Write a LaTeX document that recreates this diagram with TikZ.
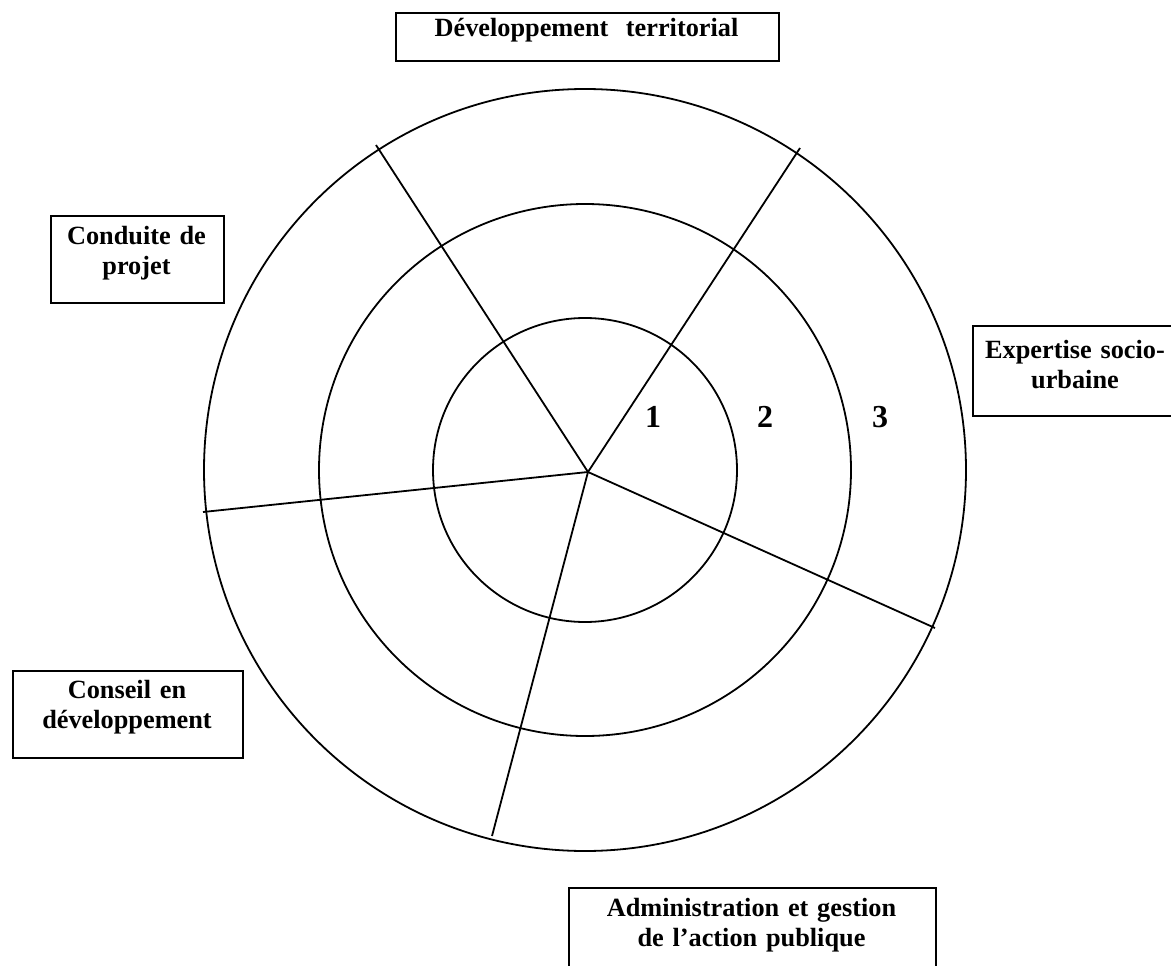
\documentclass[tikz,border=0pt]{standalone}
\usepackage{fontspec}
\setmainfont{Liberation Serif}
\begin{document}
\begin{tikzpicture}[x=1pt,y=-1pt,
  ring/.style={draw, line width=1.8pt},
  spoke/.style={draw, line width=1.8pt},
  frame/.style={draw, line width=1.8pt, inner sep=0pt, anchor=north west},
  lbl/.style={font=\bfseries\fontsize{26.3}{30.8}\selectfont, align=center, inner sep=0pt, anchor=base},
  num/.style={font=\bfseries\fontsize{32}{36}\selectfont, anchor=base, inner sep=0pt}]
\useasboundingbox (0,0) rectangle (1171,966);

% rings
\coordinate (o) at (585,470);
\draw[ring] (o) circle[radius=381pt];
\draw[ring] (o) circle[radius=266pt];
\draw[ring] (o) circle[radius=152pt];

% spokes
\coordinate (c) at (588,472);
\coordinate (s1) at (376,145);
\coordinate (s2) at (800,148);
\coordinate (s3) at (935,628);
\coordinate (s4) at (492,836);
\coordinate (s5) at (203,512);
\draw[spoke] (c) -- (s1);
\draw[spoke] (c) -- (s2);
\draw[spoke] (c) -- (s3);
\draw[spoke] (c) -- (s4);
\draw[spoke] (c) -- (s5);

% ring numbers
\node[num] (n1) at (653,427) {1};
\node[num] (n2) at (765,427) {2};
\node[num] (n3) at (880,427) {3};

% boxes
\node[frame, minimum width=383pt, minimum height=48pt] (bdev) at (395,12) {};
\node[lbl, text width=380pt] (tdev) at (586.5,37) {Développement\ \ territorial};

\node[frame, minimum width=173pt, minimum height=87pt] (bcond) at (50,215) {};
\node[lbl, text width=170pt] (tcond) at (136.5,244) {Conduite de\\projet};

\node[frame, minimum width=206pt, minimum height=90pt] (bexp) at (972,325) {};
\node[lbl, text width=200pt] (texp) at (1075,358) {Expertise socio-\\urbaine};

\node[frame, minimum width=230pt, minimum height=87pt] (bcons) at (12,670) {};
\node[lbl, text width=226pt] (tcons) at (127,698) {Conseil en\\développement};

\node[frame, minimum width=367pt, minimum height=90pt] (badm) at (568,887) {};
\node[lbl, text width=360pt] (tadm) at (751.5,916) {Administration et gestion\\de l’action publique};
\end{tikzpicture}
\end{document}
